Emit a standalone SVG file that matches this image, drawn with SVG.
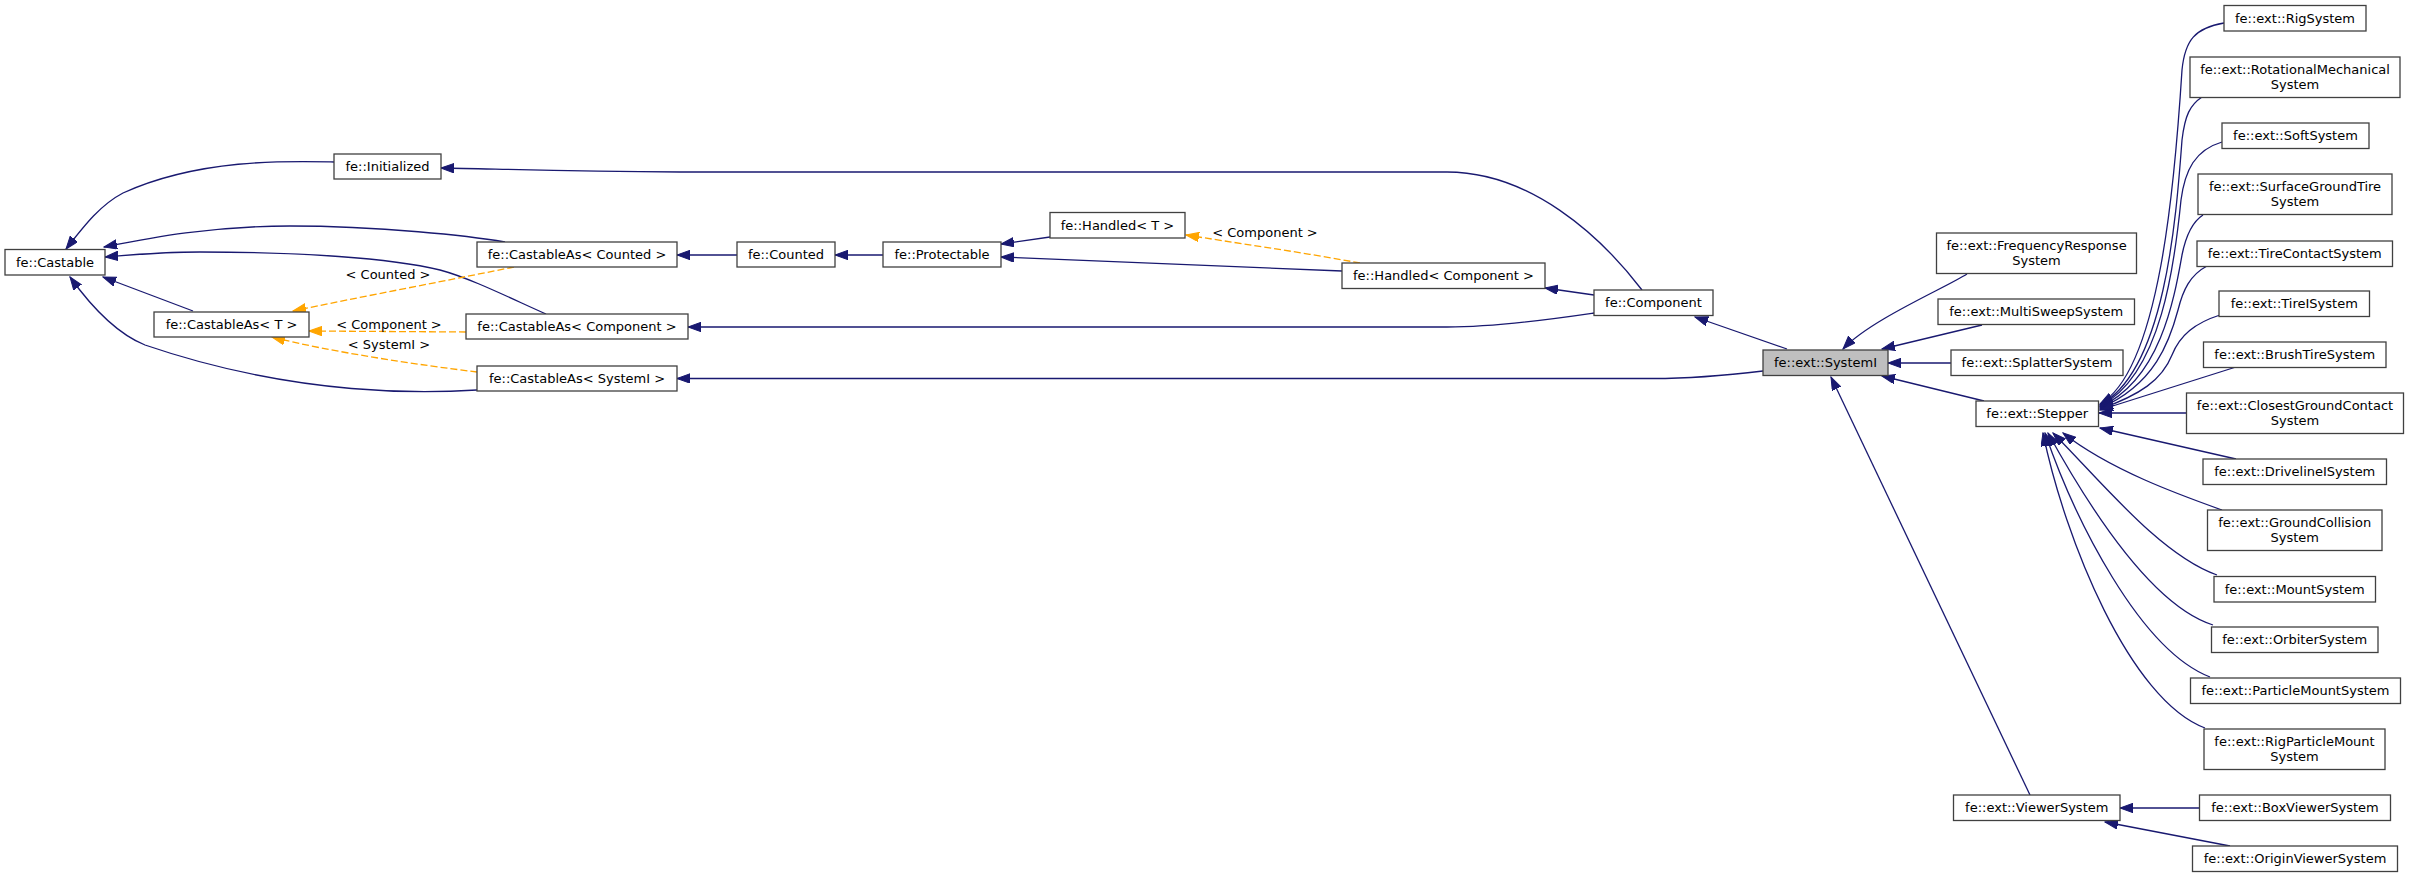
<svg xmlns="http://www.w3.org/2000/svg" width="2409" height="877" viewBox="0 0 2409 877">
<defs>
<style>
.n rect{fill:#fff;stroke:#404040;stroke-width:1.3}
.n.cur rect{fill:#bfbfbf}
text{font-family:"DejaVu Sans","Liberation Sans",sans-serif;font-size:13px;fill:#000;text-anchor:middle}
.e path{fill:none;stroke:#191970;stroke-width:1.3;marker-end:url(#ab)}
.e path.d{stroke:#ffa500;stroke-dasharray:7,3;marker-end:url(#ao)}
</style>
<marker id="ab" markerUnits="userSpaceOnUse" markerWidth="14" markerHeight="10" refX="13" refY="4.7" orient="auto"><path d="M0,0 L13,4.7 L0,9.4 Z" fill="#191970" stroke="#191970" stroke-width="1"/></marker>
<marker id="ao" markerUnits="userSpaceOnUse" markerWidth="14" markerHeight="10" refX="13" refY="4.7" orient="auto"><path d="M0,0 L13,4.7 L0,9.4 Z" fill="#ffa500" stroke="#ffa500" stroke-width="1"/></marker>
</defs>
<rect width="2409" height="877" fill="#fff"/>
<g id="edges" class="e">
<path d="M334,162 C290,161 200,158 123,193 C100,205 84,226 66,249"/>
<path d="M505,242 C470,236 380,226 290,226 C210,226 150,238 104,247"/>
<path d="M546,314 C510,298 470,278 440,270 C390,258 300,252 200,252 C160,252 130,255 105,257"/>
<path d="M193,311 L103,277"/>
<path d="M477,390 C430,393 300,398 145,345 C115,333 88,302 70,277"/>
<path class="d" d="M514,267 C470,276 350,299 293,311"/>
<path class="d" d="M466,332 L309,331"/>
<path class="d" d="M477,372 C420,365 330,352 272,337"/>
<path d="M737,255 L677,255"/>
<path d="M883,255 L835,255"/>
<path d="M1050,237 L1001,244"/>
<path d="M1342,271 L1001,257"/>
<path class="d" d="M1360,263 C1300,252 1230,242 1186,235"/>
<path d="M1594,295 L1545,288"/>
<path d="M1642,290 C1600,235 1530,172 1447,172 L680,172 C560,171 500,169 441,168"/>
<path d="M1594,313 C1560,318 1500,327 1447,327 L688,327"/>
<path d="M1787,349 L1695,317"/>
<path d="M1763,371 C1730,375 1690,378.5 1653,378.5 L677,378.5"/>
<path d="M1967,274 C1945,288 1870,320 1843,349"/>
<path d="M1982,325 L1882,349"/>
<path d="M1951,363 L1888,363"/>
<path d="M1984,401 L1882,376"/>
<path d="M2030,795 L1831,377"/>
<path d="M2224,23 C2195,28 2185,40 2182,70 C2175,180 2160,370 2100,404"/>
<path d="M2202,97 C2190,105 2185,115 2182,140 C2176,220 2165,370 2100,405"/>
<path d="M2222,142 C2195,150 2185,170 2181,200 C2175,260 2162,375 2100,406"/>
<path d="M2203,215 C2192,222 2186,235 2182,255 C2174,300 2160,380 2100,407"/>
<path d="M2207,266 C2190,275 2183,290 2178,310 C2170,340 2155,385 2100,408"/>
<path d="M2220,315 C2195,323 2180,335 2172,355 C2162,380 2140,395 2100,409"/>
<path d="M2236,367 L2100,410"/>
<path d="M2186,413 L2099,413"/>
<path d="M2236,459 L2100,428"/>
<path d="M2222,510 C2180,495 2110,470 2063,433"/>
<path d="M2217,575 C2160,555 2100,480 2053,433"/>
<path d="M2213,625 C2150,605 2085,500 2048,433"/>
<path d="M2210,677 C2140,650 2075,520 2045,433"/>
<path d="M2205,728 C2130,700 2065,540 2043,433"/>
<path d="M2199.5,808 L2120,808"/>
<path d="M2230,846 L2105,822"/>
<text x="388" y="278.5">&lt; Counted &gt;</text>
<text x="389" y="328.5">&lt; Component &gt;</text>
<text x="389" y="348.5">&lt; SystemI &gt;</text>
<text x="1265" y="237">&lt; Component &gt;</text>
</g>
<g id="n_castable" class="n"><rect x="5" y="249.5" width="100" height="25.5"/><text x="55" y="267">fe::Castable</text></g>
<g id="n_initialized" class="n"><rect x="334" y="154" width="107" height="25"/><text x="387.5" y="171">fe::Initialized</text></g>
<g id="n_castableas_t" class="n"><rect x="154" y="312" width="155" height="25"/><text x="231.5" y="329">fe::CastableAs&lt; T &gt;</text></g>
<g id="n_castableas_counted" class="n"><rect x="477" y="242" width="200" height="25"/><text x="577" y="259">fe::CastableAs&lt; Counted &gt;</text></g>
<g id="n_counted" class="n"><rect x="737" y="242" width="98" height="25"/><text x="786" y="259">fe::Counted</text></g>
<g id="n_castableas_component" class="n"><rect x="466" y="314" width="222" height="25"/><text x="577" y="331">fe::CastableAs&lt; Component &gt;</text></g>
<g id="n_castableas_systemi" class="n"><rect x="477" y="366" width="200" height="25"/><text x="577" y="383">fe::CastableAs&lt; SystemI &gt;</text></g>
<g id="n_protectable" class="n"><rect x="883" y="242" width="118" height="25"/><text x="942" y="259">fe::Protectable</text></g>
<g id="n_handled_t" class="n"><rect x="1050" y="212.5" width="135" height="25.5"/><text x="1117.5" y="229.75">fe::Handled&lt; T &gt;</text></g>
<g id="n_handled_component" class="n"><rect x="1342" y="263" width="203" height="25.5"/><text x="1443.5" y="280.25">fe::Handled&lt; Component &gt;</text></g>
<g id="n_component" class="n"><rect x="1594" y="290" width="119" height="25.5"/><text x="1653.5" y="307.25">fe::Component</text></g>
<g id="n_systemi" class="n cur"><rect x="1763" y="350" width="125" height="25.5"/><text x="1825.5" y="367.25">fe::ext::SystemI</text></g>
<g id="n_freqresp" class="n"><rect x="1936.5" y="233" width="200" height="40.5"/><text x="2036.5" y="249.5">fe::ext::FrequencyResponse</text><text x="2036.5" y="264.5">System</text></g>
<g id="n_multisweep" class="n"><rect x="1938" y="299" width="196.5" height="25.5"/><text x="2036.25" y="316.25">fe::ext::MultiSweepSystem</text></g>
<g id="n_splatter" class="n"><rect x="1951" y="350" width="172" height="25.5"/><text x="2037" y="367.25">fe::ext::SplatterSystem</text></g>
<g id="n_stepper" class="n"><rect x="1976" y="401" width="122.5" height="25.5"/><text x="2037.25" y="418.25">fe::ext::Stepper</text></g>
<g id="n_viewer" class="n"><rect x="1953.5" y="795" width="166.5" height="25.5"/><text x="2036.75" y="812.25">fe::ext::ViewerSystem</text></g>
<g id="n_rig" class="n"><rect x="2224" y="5.5" width="142" height="25.5"/><text x="2295" y="22.75">fe::ext::RigSystem</text></g>
<g id="n_rotmech" class="n"><rect x="2190" y="57" width="210" height="40.5"/><text x="2295" y="73.5">fe::ext::RotationalMechanical</text><text x="2295" y="88.5">System</text></g>
<g id="n_soft" class="n"><rect x="2222" y="123" width="147" height="25.5"/><text x="2295.5" y="140.25">fe::ext::SoftSystem</text></g>
<g id="n_surfground" class="n"><rect x="2198" y="174" width="194" height="40.5"/><text x="2295" y="190.5">fe::ext::SurfaceGroundTire</text><text x="2295" y="205.5">System</text></g>
<g id="n_tirecontact" class="n"><rect x="2197" y="241" width="195.5" height="25.5"/><text x="2294.75" y="258.25">fe::ext::TireContactSystem</text></g>
<g id="n_tirei" class="n"><rect x="2219" y="291" width="150.5" height="25.5"/><text x="2294.25" y="308.25">fe::ext::TireISystem</text></g>
<g id="n_brushtire" class="n"><rect x="2203.5" y="342" width="182.5" height="25.5"/><text x="2294.75" y="359.25">fe::ext::BrushTireSystem</text></g>
<g id="n_closest" class="n"><rect x="2186.5" y="393" width="217" height="40.5"/><text x="2295" y="409.5">fe::ext::ClosestGroundContact</text><text x="2295" y="424.5">System</text></g>
<g id="n_driveline" class="n"><rect x="2203" y="459" width="183.5" height="25.5"/><text x="2294.75" y="476.25">fe::ext::DrivelineISystem</text></g>
<g id="n_groundcoll" class="n"><rect x="2207.5" y="510" width="174.5" height="40.5"/><text x="2294.75" y="526.5">fe::ext::GroundCollision</text><text x="2294.75" y="541.5">System</text></g>
<g id="n_mount" class="n"><rect x="2214" y="576.5" width="161.5" height="25.5"/><text x="2294.75" y="593.75">fe::ext::MountSystem</text></g>
<g id="n_orbiter" class="n"><rect x="2211.5" y="627" width="166.5" height="25.5"/><text x="2294.75" y="644.25">fe::ext::OrbiterSystem</text></g>
<g id="n_particlemount" class="n"><rect x="2190.5" y="678" width="210" height="25.5"/><text x="2295.5" y="695.25">fe::ext::ParticleMountSystem</text></g>
<g id="n_rigparticle" class="n"><rect x="2204" y="729" width="181" height="40.5"/><text x="2294.5" y="745.5">fe::ext::RigParticleMount</text><text x="2294.5" y="760.5">System</text></g>
<g id="n_boxviewer" class="n"><rect x="2199.5" y="795" width="191" height="25.5"/><text x="2295" y="812.25">fe::ext::BoxViewerSystem</text></g>
<g id="n_originviewer" class="n"><rect x="2192.5" y="846" width="205" height="25.5"/><text x="2295" y="863.25">fe::ext::OriginViewerSystem</text></g>
</svg>
